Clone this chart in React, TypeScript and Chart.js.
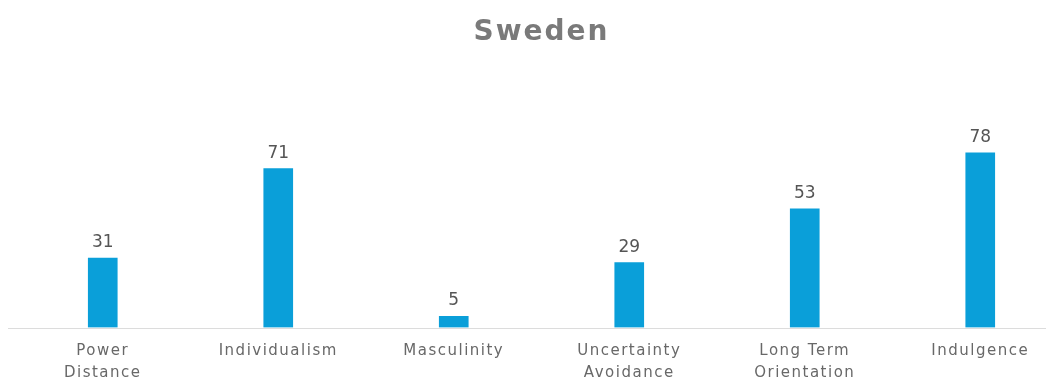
import React, { useEffect, useRef } from "react";
import { Chart, registerables } from "chart.js";

Chart.register(...registerables);

const categories: (string | string[])[] = [
  ["Power", "Distance"],
  "Individualism",
  "Masculinity",
  ["Uncertainty", "Avoidance"],
  ["Long Term", "Orientation"],
  "Indulgence",
];
const scores = [31, 71, 5, 29, 53, 78];
const titleText = "Sweden";

const spacingPlugin = {
  id: "spacing",
  beforeDraw(chart: any) {
    chart.ctx.letterSpacing = "2px";
  },
  beforeDatasetsDraw(chart: any) {
    chart.ctx.letterSpacing = "1.5px";
  },
  afterDraw(chart: any) {
    chart.ctx.letterSpacing = "0px";
  },
};

const baselinePlugin = {
  id: "baseline",
  afterDatasetsDraw(chart: any) {
    const { ctx } = chart;
    const y = chart.scales.y.getPixelForValue(0);
    ctx.save();
    ctx.strokeStyle = "#dcdcdc";
    ctx.lineWidth = 1;
    ctx.beginPath();
    ctx.moveTo(0, Math.round(y) + 0.5);
    ctx.lineTo(chart.width, Math.round(y) + 0.5);
    ctx.stroke();
    ctx.restore();
  },
};

const valueLabelPlugin = {
  id: "valueLabels",
  afterDatasetsDraw(chart: any) {
    const { ctx } = chart;
    const meta = chart.getDatasetMeta(0);
    const data = chart.data.datasets[0].data;
    ctx.save();
    ctx.letterSpacing = "0px";
    ctx.font = '17px "DejaVu Sans", sans-serif';
    ctx.fillStyle = "#555555";
    ctx.textAlign = "center";
    ctx.textBaseline = "alphabetic";
    meta.data.forEach((bar: any, i: number) => {
      ctx.fillText(String(data[i]), bar.x, bar.y - 11);
    });
    ctx.restore();
  },
};

export default function App() {
  const canvasRef = useRef<HTMLCanvasElement | null>(null);

  useEffect(() => {
    if (!canvasRef.current) return;
    const chart = new Chart(canvasRef.current, {
      type: "bar",
      data: {
        labels: categories,
        datasets: [
          {
            data: scores,
            backgroundColor: "#0a9fd9",
            barThickness: 29,
          },
        ],
      },
      options: {
        animation: false,
        responsive: false,
        layout: { padding: { left: 15, right: 0, top: 0, bottom: 0 } },
        plugins: {
          legend: { display: false },
          tooltip: { enabled: false },
          title: {
            display: true,
            text: titleText,
            color: "#7a7a7a",
            font: { family: '"DejaVu Sans", sans-serif', size: 28, weight: "bold", lineHeight: 1.2 },
            padding: { top: 16, bottom: 54 },
          },
        },
        scales: {
          x: {
            grid: { display: false, drawTicks: false },
            border: { display: false },
            ticks: {
              z: 1,
              color: "#686868",
              font: { family: '"DejaVu Sans", sans-serif', size: 15, lineHeight: 1.45 },
              padding: 13,
              maxRotation: 0,
              autoSkip: false,
            },
          },
          y: {
            display: false,
            min: 0,
            max: 100,
          },
        },
      },
      plugins: [spacingPlugin, baselinePlugin, valueLabelPlugin],
    });
    return () => chart.destroy();
  }, []);

  return (
    <div
      style={{
        width: 1054,
        height: 380,
        overflow: "hidden",
        margin: "-8px -8px 0 -8px",
        position: "relative",
        background: "#fff",
      }}
    >
      <canvas ref={canvasRef} width={1068} height={397} style={{ display: "block", width: 1068, height: 397 }} />
    </div>
  );
}
